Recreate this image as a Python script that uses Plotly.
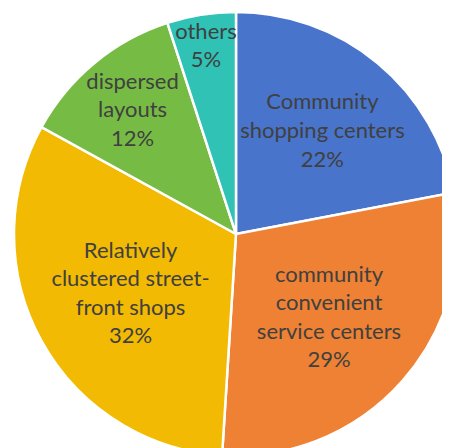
import plotly.graph_objects as go

categories = ["Community shopping centers", "community convenient service centers",
              "Relatively clustered street-front shops", "dispersed layouts", "others"]
values = [22, 29, 32, 12, 5]
label_text = ["Community<br>shopping centers", "community<br>convenient<br>service centers",
              "Relatively<br>clustered street-<br>front shops", "dispersed<br>layouts", "others"]
colors = ["#4874CB", "#EE8133", "#F2BA02", "#76BC44", "#2FC2B5"]

texts = [f"{t}<br>{v}%" for t, v in zip(label_text, values)]

fig = go.Figure(go.Pie(
    labels=categories,
    values=values,
    text=texts,
    textinfo="text",
    textposition="inside",
    insidetextorientation="horizontal",
    sort=False,
    direction="clockwise",
    rotation=0,
    marker=dict(colors=colors, line=dict(color="white", width=2.5)),
    textfont=dict(family="Lato, Open Sans, sans-serif", size=22, color="#404040"),
    domain=dict(x=[0.0133, 1.0], y=[0.0, 0.991]),
    hoverinfo="label+percent",
))
fig.update_layout(
    width=450, height=448,
    margin=dict(l=0, r=0, t=0, b=0),
    showlegend=False,
    paper_bgcolor="white",
    uniformtext=dict(minsize=22, mode="show"),
)
fig.write_html("out.html")
